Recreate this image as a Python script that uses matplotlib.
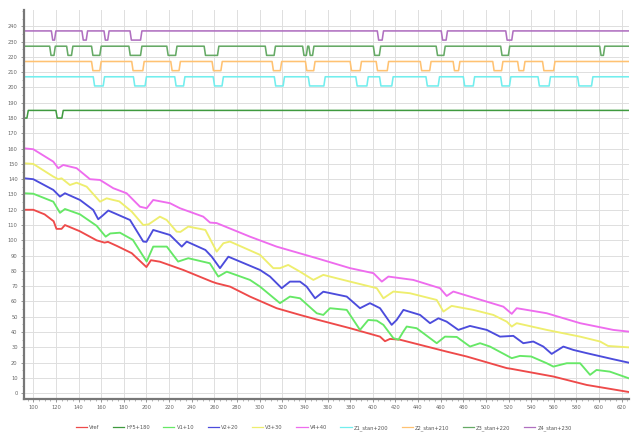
import matplotlib
matplotlib.use("Agg")
import matplotlib.pyplot as plt
from matplotlib.ticker import MultipleLocator

# ---------------- data ----------------
vref_x = [92, 100, 110, 118, 120.5, 125, 128, 141, 156, 163, 166, 174, 187, 200, 204, 212, 232.6,
          257.7, 262, 274, 291.5, 315, 335.7, 350.5, 380, 406.4, 410.8, 415.2, 424, 465.3, 483,
          518.4, 522, 559.6, 589, 626]
vref_y = [120, 120, 117, 112.5, 107.5, 107.5, 110, 106, 100, 98.5, 99, 96.3, 91.6, 82.5, 87, 86, 80.6,
          73, 71.9, 69.7, 63.2, 55.6, 51.2, 48.2, 42.5, 37, 34, 35.5, 35, 27.2, 24,
          16.4, 16, 10.9, 5.4, 0.8]

v1_x = [92, 100, 117.7, 123.6, 128, 141.3, 156, 164, 168, 176.6, 188, 200.2, 206, 218, 228, 237, 256,
        263.5, 271, 291.5, 300.4, 318, 326.8, 335.7, 350.5, 356.3, 362.2, 377, 388.7, 396, 403.5,
        409.4, 418.2, 422.7, 427, 430, 438.8, 456.5, 463.8, 474.2, 485.9, 494.8, 503.6, 522.8, 530,
        540, 553.7, 559.6, 571.4, 583.2, 592, 597.7, 609.5, 626]
v1_y = [130.8, 130.5, 125.3, 118, 120.5, 117, 109.5, 102.4, 104.5, 105, 100.3, 86.1, 95.9, 95.9, 86.1,
        88.3, 85, 76.3, 79.5, 74.1, 69.7, 58.9, 63.2, 62.1, 52.3, 51.2, 55.6, 54.5, 41.4, 47.9, 47.5,
        44.7, 36, 35, 40.3, 43.6, 42.5, 32.7, 37, 36.8, 30.5, 32.7, 30.5, 22.9, 24.4,
        24, 19.6, 17.4, 19.6, 19.6, 12, 15.2, 14.1, 9.8]

v2_x = [92, 100, 117.7, 123.6, 128, 141.3, 153, 157.4, 161, 166.3, 185.5, 197.2, 200, 206, 220.8,
        231.2, 235.6, 252.1, 257.7, 265, 272.4, 300.4, 309.2, 319.5, 326.8, 335.7, 341.6, 349, 356.3,
        377, 388.7, 397.5, 406.4, 416.7, 421.1, 427.1, 441.8, 450.6, 458, 465.3, 475.6, 485.9, 500.7,
        512.4, 524.2, 533, 541.8, 550.7, 558.1, 568.4, 577.3, 589, 612.5, 626]
v2_y = [140.6, 140, 133, 128.6, 130.8, 126.4, 119.9, 113.8, 116, 119.5, 113.3, 99.2, 99, 106.8, 103.5,
        95.9, 99.2, 93.7, 89.3, 81.8, 89.3, 80.6, 76.3, 68.7, 73, 73, 69.7, 62.1, 66.4,
        63.2, 55.6, 58.9, 55.6, 44.7, 47.9, 54.5, 51.2, 45.8, 49, 46.8, 41.4, 44, 41.4,
        37, 37.5, 32.7, 33.8, 30.5, 25.7, 30.5, 28.3, 26.2, 22.2, 20]

v3_x = [92, 100, 117.7, 122.1, 125, 132.4, 138.3, 147.2, 159, 164.9, 170.7, 176, 187, 197.2, 202,
        211.9, 217.9, 226.7, 230, 237, 252.1, 262.1, 268, 273.8, 300.4, 312.1, 318, 325.3, 335.7,
        347.5, 356.3, 379.9, 403.5, 409.4, 418.2, 432.8, 456.5, 462.4, 469.7, 488.9, 506.5, 518.4,
        522.8, 527.2, 553.7, 583.2, 600.9, 607.9, 626]
v3_y = [150.4, 150, 141.7, 140, 140.6, 136.2, 137.7, 135.1, 125.3, 127.5, 126.4, 125.5, 118.8, 110,
        110.5, 115.5, 113.3, 105.7, 105.5, 109, 106.8, 92.6, 98.1, 99.2, 90.5, 81.8, 81.8, 83.9, 79.5,
        74.1, 77.4, 73, 68.7, 62.1, 66.5, 65.4, 61, 53.4, 57.1, 54.5, 51.2, 46.8,
        43.6, 45.8, 41.4, 37, 33.8, 30.9, 30]

v4_x = [92, 100, 117.7, 122.1, 126.5, 138.3, 150.1, 159, 170.7, 182.5, 194.3, 200.2, 206, 220.8,
        229.6, 250.2, 256.2, 262, 291.5, 315, 350.5, 379.9, 400.6, 408, 413.8, 435.8, 459.4, 465.3,
        471.2, 515.4, 522.8, 527.2, 553.7, 583.2, 612.5, 626]
v4_y = [160.2, 159.6, 151.5, 147.2, 149.3, 147.2, 140, 139.5, 134.1, 130.8, 122, 121, 126.4, 124.3,
        121, 115.5, 111.6, 111.3, 102.4, 95.9, 88.3, 81.8, 78.5, 73, 76.3, 74.1, 68.7, 63.6,
        66.5, 56.6, 51.9, 55.6, 52.3, 45.8, 41.4, 40.3]

# H*5+180 : level 185 (H=1) with low (H=0) periods
h_dips = [(92, 95.6), (120, 126.5)]
h_hi, h_lo = 185, 180

# Z*_stan : high = 7, low = 1 (plus offsets)
z_hi, z_lo = 7, 1
z1_dips = [(153, 163), (188.5, 200), (225, 234), (259, 268), (313, 322), (343, 358), (385, 396),
           (406, 418), (447, 459), (480, 490), (513, 522), (546, 557), (581, 594.5)]
z2_dips = [(151.5, 160), (187, 198), (221.5, 230), (258, 267), (311, 319.5), (340.5, 349),
           (380, 390), (403, 414), (442, 451.5), (471, 477), (506, 515), (528, 534.5), (550, 561)]
z3_dips = [(114.5, 119.5), (129.5, 135), (151.5, 160), (184.5, 196), (218, 227), (251, 264),
           (305, 314), (338, 342.5), (343.5, 348), (400.5, 407), (456, 464), (513, 521), (600.5, 605)]
z4_dips = [(116, 120), (143, 148), (162.5, 167), (185.5, 196), (404, 409.5), (460.5, 466),
           (517.5, 524)]

x_start, x_end = 92, 626

labels = ["Vref", "H*5+180", "V1+10", "V2+20", "V3+30", "V4+40",
          "Z1_stan+200", "Z2_stan+210", "Z3_stan+220", "Z4_stan+230"]
colors = ["#ee4a4a", "#3f9a3f", "#66e866", "#4c4cdc", "#eeee6e", "#ee6cee",
          "#72eeee", "#ffc272", "#66aa66", "#b070c0"]


def step_series(dips, hi, lo, x0, x1, ramp=1.2):
    xs, ys = [], []
    if dips[0][0] > x0:
        xs.append(x0); ys.append(hi)
    for a, b in dips:
        r = min(ramp, (b - a) / 2.5)
        if a <= x0:
            xs += [x0, b - r, b]
            ys += [lo, lo, hi]
        else:
            xs += [a, a + r, b - r, b]
            ys += [hi, lo, lo, hi]
    xs.append(x1); ys.append(hi)
    return xs, ys


# ---------------- figure ----------------
fig = plt.figure(figsize=(6.31, 4.34), dpi=100)
ax = fig.add_axes([0.038, 0.081, 0.959, 0.896])

lw = 1.35
ax.plot(vref_x, vref_y, color=colors[0], lw=lw, label=labels[0], solid_joinstyle="round")
hx, hy = step_series(h_dips, h_hi, h_lo, x_start, x_end)
ax.plot(hx, hy, color=colors[1], lw=1.1, label=labels[1])
ax.plot(v1_x, v1_y, color=colors[2], lw=lw, label=labels[2], solid_joinstyle="round")
ax.plot(v2_x, v2_y, color=colors[3], lw=lw, label=labels[3], solid_joinstyle="round")
ax.plot(v3_x, v3_y, color=colors[4], lw=lw, label=labels[4], solid_joinstyle="round")
ax.plot(v4_x, v4_y, color=colors[5], lw=lw, label=labels[5], solid_joinstyle="round")

for dips, off, c, lab in [(z1_dips, 200, colors[6], labels[6]),
                          (z2_dips, 210, colors[7], labels[7]),
                          (z3_dips, 220, colors[8], labels[8]),
                          (z4_dips, 230, colors[9], labels[9])]:
    zx, zy = step_series(dips, z_hi, z_lo, x_start, x_end)
    ax.plot(zx, [v + off for v in zy], color=c, lw=1.15, label=lab)

ax.set_xlim(91.8, 626.5)
ax.set_ylim(-3.7, 250.7)
ax.xaxis.set_minor_locator(MultipleLocator(5))
ax.yaxis.set_minor_locator(MultipleLocator(5))
ax.set_xticks(list(range(100, 621, 20)))
ax.set_yticks(list(range(0, 241, 10)))
ax.grid(True, which="major", color="#dedede", lw=0.7)
ax.set_axisbelow(True)

for s in ["top", "right"]:
    ax.spines[s].set_visible(False)
for s in ["left", "bottom"]:
    ax.spines[s].set_color("#777777")
    ax.spines[s].set_linewidth(1.6)

ax.tick_params(axis="both", which="major", labelsize=3.7, labelcolor="#666666",
               color="#888888", length=2.5, width=0.6, pad=2)
ax.tick_params(axis="both", which="minor", color="#999999", length=1.5, width=0.5)

leg = fig.legend(loc="center", bbox_to_anchor=(0.513, 0.014), ncol=10, fontsize=3.7,
                 frameon=False, handlelength=2.2, handletextpad=0.4, columnspacing=2.6)
for t in leg.get_texts():
    t.set_color("#555555")
for l in leg.get_lines():
    l.set_linewidth(0.9)

fig.savefig("out.png", dpi=100)
